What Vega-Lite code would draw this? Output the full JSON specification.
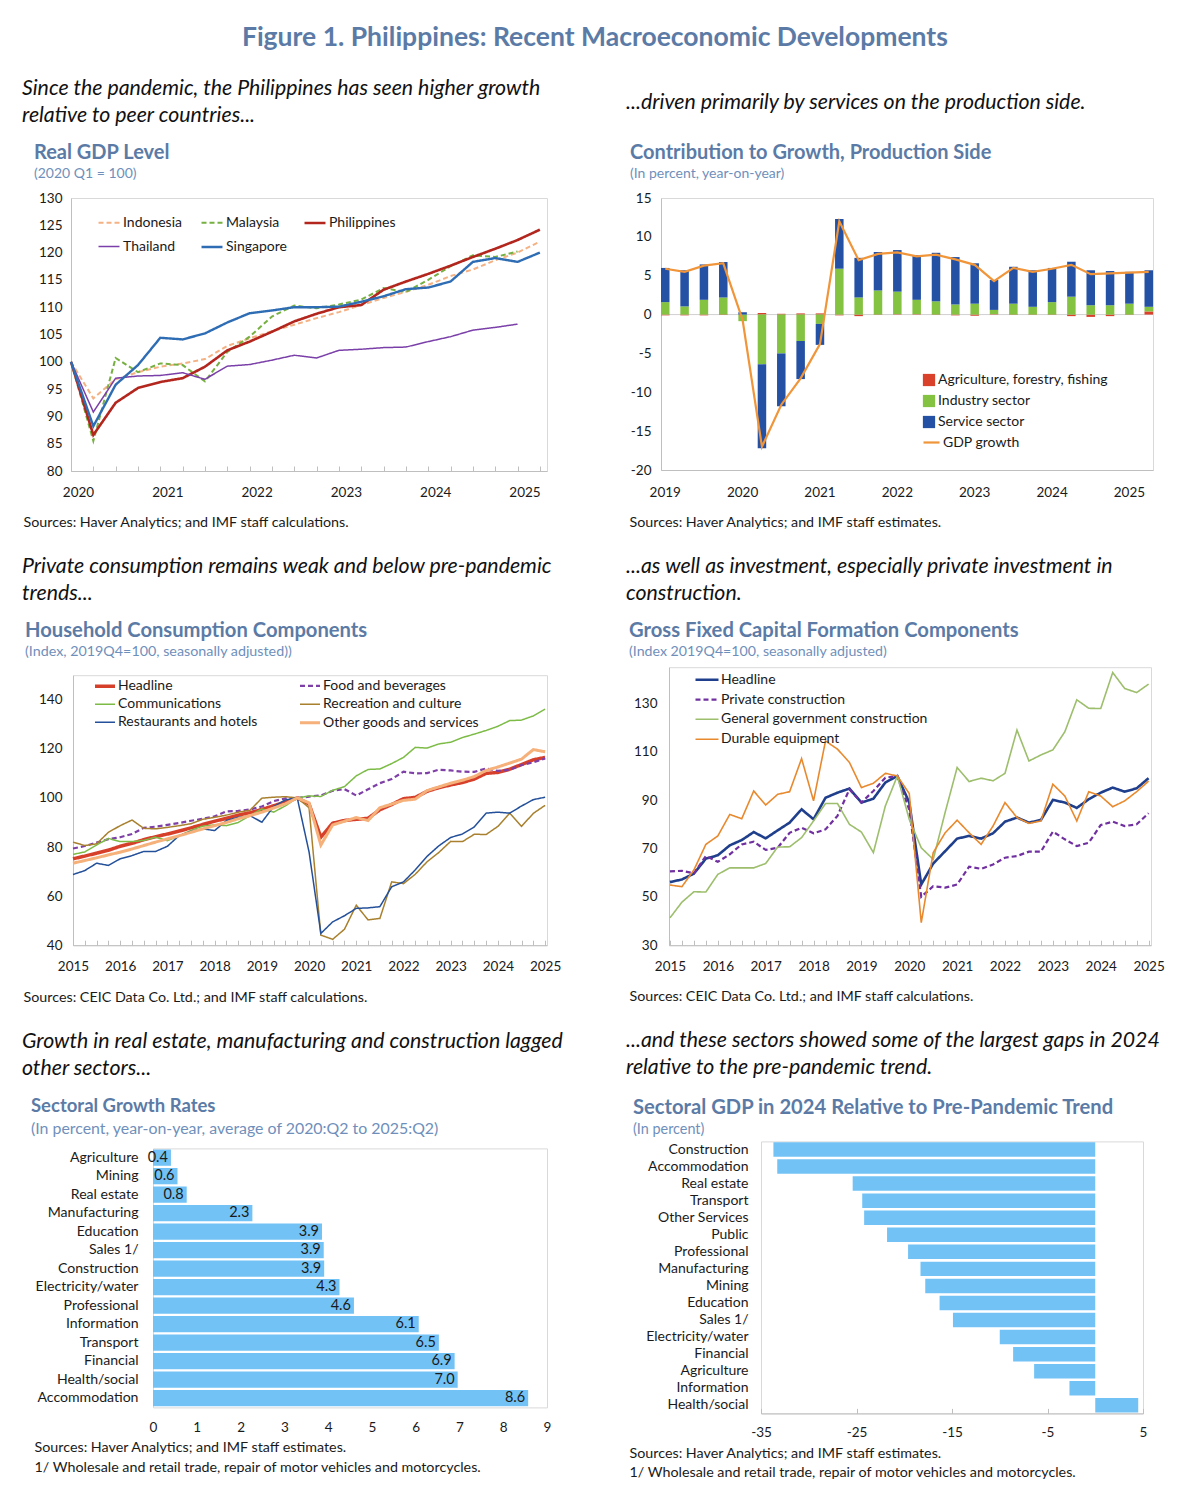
{
  "$schema": "https://vega.github.io/schema/vega-lite/v6.json",
  "background": "white",
  "padding": {"left": 21, "top": 25, "right": 10, "bottom": 10},
  "title": {"text": "Figure 1. Philippines: Recent Macroeconomic Developments", "fontSize": 26.5, "anchor": "middle", "frame": "bounds", "offset": 26, "dx": 2, "color": "#5B7BA6", "fontWeight": "bold"},
  "spacing": 62,
  "resolve": {"scale": {"color": "independent", "stroke": "independent", "strokeDash": "independent", "strokeWidth": "independent"}, "legend": {"color": "independent", "stroke": "independent", "strokeDash": "independent", "strokeWidth": "independent"}},
  "hconcat": [
    {
      "columns": 1, "align": "none", "spacing": 25.2,
      "resolve": {"scale": {"color": "independent", "stroke": "independent", "strokeDash": "independent", "strokeWidth": "independent"}, "legend": {"color": "independent", "stroke": "independent", "strokeDash": "independent", "strokeWidth": "independent"}},
      "concat": [
        {
          "title": {"text": ["Since the pandemic, the Philippines has seen higher growth", "relative to peer countries..."], "fontSize": 21.3, "fontStyle": "italic", "fontWeight": "normal", "color": "#111111", "lineHeight": 27, "offset": 16.3, "dx": 1},
          "resolve": {"scale": {"color": "independent", "stroke": "independent", "strokeDash": "independent", "strokeWidth": "independent"}, "legend": {"color": "independent", "stroke": "independent", "strokeDash": "independent", "strokeWidth": "independent"}},
          "vconcat": [
            {
              "spacing": 0,
              "resolve": {"scale": {"color": "independent", "stroke": "independent", "strokeDash": "independent", "strokeWidth": "independent"}, "legend": {"color": "independent", "stroke": "independent", "strokeDash": "independent", "strokeWidth": "independent"}},
              "hconcat": [
                {"width": 1, "height": 1, "data": {"values": []}, "mark": {"type": "point"}, "view": {"stroke": null}},
                {
                  "width": 476, "height": 273,
                  "title": {"text": "Real GDP Level", "subtitle": "(2020 Q1 = 100)", "fontSize": 20, "subtitleFontSize": 14, "subtitlePadding": 4, "offset": 10.3, "dx": 11},
                  "data": {"values": [
                    {"t": 2020, "Indonesia": 100, "Malaysia": 100, "Philippines": 100, "Thailand": 100, "Singapore": 100},
                    {"t": 2020.25, "Indonesia": 93.3, "Malaysia": 85.5, "Philippines": 86.6, "Thailand": 90.8, "Singapore": 88.2},
                    {"t": 2020.5, "Indonesia": 96.8, "Malaysia": 100.7, "Philippines": 92.5, "Thailand": 97.0, "Singapore": 95.8},
                    {"t": 2020.75, "Indonesia": 98.1, "Malaysia": 98.1, "Philippines": 95.2, "Thailand": 97.4, "Singapore": 99.4},
                    {"t": 2021, "Indonesia": 99.1, "Malaysia": 99.7, "Philippines": 96.3, "Thailand": 97.5, "Singapore": 104.4},
                    {"t": 2021.25, "Indonesia": 99.7, "Malaysia": 99.4, "Philippines": 97.0, "Thailand": 98.0, "Singapore": 104.1},
                    {"t": 2021.5, "Indonesia": 100.5, "Malaysia": 96.4, "Philippines": 99.1, "Thailand": 96.8, "Singapore": 105.2},
                    {"t": 2021.75, "Indonesia": 102.9, "Malaysia": 101.8, "Philippines": 102.1, "Thailand": 99.2, "Singapore": 107.2},
                    {"t": 2022, "Indonesia": 104.3, "Malaysia": 104.6, "Philippines": 103.7, "Thailand": 99.5, "Singapore": 108.9},
                    {"t": 2022.25, "Indonesia": 105.6, "Malaysia": 108.3, "Philippines": 105.5, "Thailand": 100.3, "Singapore": 109.4},
                    {"t": 2022.5, "Indonesia": 106.8, "Malaysia": 110.3, "Philippines": 107.4, "Thailand": 101.2, "Singapore": 110.0},
                    {"t": 2022.75, "Indonesia": 108.0, "Malaysia": 109.8, "Philippines": 108.8, "Thailand": 100.7, "Singapore": 110.0},
                    {"t": 2023, "Indonesia": 109.1, "Malaysia": 110.5, "Philippines": 110.0, "Thailand": 102.1, "Singapore": 110.1},
                    {"t": 2023.25, "Indonesia": 110.4, "Malaysia": 111.4, "Philippines": 110.4, "Thailand": 102.3, "Singapore": 111.0},
                    {"t": 2023.5, "Indonesia": 111.7, "Malaysia": 113.5, "Philippines": 113.2, "Thailand": 102.6, "Singapore": 112.0},
                    {"t": 2023.75, "Indonesia": 112.8, "Malaysia": 112.8, "Philippines": 114.7, "Thailand": 102.7, "Singapore": 113.3},
                    {"t": 2024, "Indonesia": 114.1, "Malaysia": 115.0, "Philippines": 116.1, "Thailand": 103.7, "Singapore": 113.6},
                    {"t": 2024.25, "Indonesia": 115.7, "Malaysia": 117.5, "Philippines": 117.6, "Thailand": 104.6, "Singapore": 114.7},
                    {"t": 2024.5, "Indonesia": 116.9, "Malaysia": 119.5, "Philippines": 119.2, "Thailand": 105.8, "Singapore": 118.3},
                    {"t": 2024.75, "Indonesia": 118.6, "Malaysia": 119.2, "Philippines": 120.7, "Thailand": 106.3, "Singapore": 119.0},
                    {"t": 2025, "Indonesia": 120.0, "Malaysia": 120.2, "Philippines": 122.3, "Thailand": 106.9, "Singapore": 118.3},
                    {"t": 2025.25, "Indonesia": 122.0, "Philippines": 124.2, "Singapore": 120.0}
                  ]},
                  "transform": [{"fold": ["Indonesia", "Malaysia", "Philippines", "Thailand", "Singapore"], "as": ["country", "idx"]}],
                  "mark": {"type": "line"},
                  "encoding": {
                    "x": {"field": "t", "type": "quantitative", "scale": {"domain": [2020, 2025.33], "nice": false, "zero": false},
                      "axis": {"values": [2020, 2020.25, 2020.5, 2020.75, 2021, 2021.25, 2021.5, 2021.75, 2022, 2022.25, 2022.5, 2022.75, 2023, 2023.25, 2023.5, 2023.75, 2024, 2024.25, 2024.5, 2024.75, 2025, 2025.25],
                        "labelExpr": "datum.value % 1 == 0 ? '' + datum.value : ''", "labelOverlap": false, "labelFlush": false, "tickSize": -5, "labelPadding": 19.5, "labelOffset": 7,
                        "title": "Sources: Haver Analytics; and IMF staff calculations.", "titleX": -48, "titleY": 51, "titleAlign": "left", "titleBaseline": "middle"}},
                    "y": {"field": "idx", "type": "quantitative", "scale": {"domain": [80, 130], "nice": false, "zero": false},
                      "axis": {"values": [80, 85, 90, 95, 100, 105, 110, 115, 120, 125, 130], "ticks": false, "labelPadding": 9, "labelOverlap": false, "title": null}},
                    "color": {"field": "country", "type": "nominal",
                      "scale": {"domain": ["Indonesia", "Malaysia", "Philippines", "Thailand", "Singapore"], "range": ["#F4B183", "#76B041", "#B3261E", "#7A3FA8", "#2E6DB4"]},
                      "legend": {"orient": "none", "direction": "horizontal", "legendX": 26, "legendY": 13, "columns": 3, "columnPadding": 6, "rowPadding": 5, "symbolType": "stroke", "symbolSize": 440, "labelOffset": 2, "labelFontSize": 14, "gridAlign": "all", "title": null}},
                    "strokeDash": {"field": "country", "type": "nominal",
                      "scale": {"domain": ["Indonesia", "Malaysia", "Philippines", "Thailand", "Singapore"], "range": [[5, 3], [5, 3], [1, 0], [1, 0], [1, 0]]}},
                    "strokeWidth": {"field": "country", "type": "nominal",
                      "scale": {"type": "ordinal", "domain": ["Indonesia", "Malaysia", "Philippines", "Thailand", "Singapore"], "range": [2, 2, 2.6, 1.5, 2.4]}}
                  }
                }
              ]
            }
          ]
        },
        {
          "title": {"text": ["Private consumption remains weak and below pre-pandemic", "trends..."], "fontSize": 21.3, "fontStyle": "italic", "fontWeight": "normal", "color": "#111111", "lineHeight": 27, "offset": 16.25, "dx": 1},
          "resolve": {"scale": {"color": "independent", "stroke": "independent", "strokeDash": "independent", "strokeWidth": "independent"}, "legend": {"color": "independent", "stroke": "independent", "strokeDash": "independent", "strokeWidth": "independent"}},
          "vconcat": [
            {
              "spacing": 0,
              "resolve": {"scale": {"color": "independent", "stroke": "independent", "strokeDash": "independent", "strokeWidth": "independent"}, "legend": {"color": "independent", "stroke": "independent", "strokeDash": "independent", "strokeWidth": "independent"}},
              "hconcat": [
                {"width": 1, "height": 1, "data": {"values": []}, "mark": {"type": "point"}, "view": {"stroke": null}},
                {
                  "width": 474, "height": 270,
                  "title": {"text": "Household Consumption Components", "subtitle": "(Index, 2019Q4=100, seasonally adjusted))", "fontSize": 20.2, "subtitleFontSize": 14.3, "subtitlePadding": 3.75, "offset": 14.85, "dx": 2},
                  "data": {"values": [
                    {"t": 2015, "Headline": 75.2, "Food and beverages": 79.4, "Communications": 77.0, "Recreation and culture": 82.0, "Restaurants and hotels": 68.8, "Other goods and services": 73.4},
                    {"t": 2015.25, "Headline": 76.3, "Food and beverages": 80.4, "Communications": 78.0, "Recreation and culture": 80.6, "Restaurants and hotels": 70.4, "Other goods and services": 74.5},
                    {"t": 2015.5, "Headline": 77.5, "Food and beverages": 81.8, "Communications": 80.8, "Recreation and culture": 81.3, "Restaurants and hotels": 73.4, "Other goods and services": 75.6},
                    {"t": 2015.75, "Headline": 78.7, "Food and beverages": 83.2, "Communications": 83.5, "Recreation and culture": 86.0, "Restaurants and hotels": 72.5, "Other goods and services": 76.8},
                    {"t": 2016, "Headline": 80.3, "Food and beverages": 84.0, "Communications": 82.2, "Recreation and culture": 88.7, "Restaurants and hotels": 75.2, "Other goods and services": 77.9},
                    {"t": 2016.25, "Headline": 81.5, "Food and beverages": 85.3, "Communications": 82.2, "Recreation and culture": 91.0, "Restaurants and hotels": 76.5, "Other goods and services": 79.2},
                    {"t": 2016.5, "Headline": 83.0, "Food and beverages": 87.8, "Communications": 82.7, "Recreation and culture": 87.6, "Restaurants and hotels": 78.2, "Other goods and services": 80.6},
                    {"t": 2016.75, "Headline": 84.2, "Food and beverages": 88.3, "Communications": 84.0, "Recreation and culture": 87.4, "Restaurants and hotels": 78.2, "Other goods and services": 82.0},
                    {"t": 2017, "Headline": 85.3, "Food and beverages": 89.0, "Communications": 82.6, "Recreation and culture": 88.0, "Restaurants and hotels": 80.3, "Other goods and services": 83.3},
                    {"t": 2017.25, "Headline": 86.5, "Food and beverages": 89.8, "Communications": 84.5, "Recreation and culture": 88.7, "Restaurants and hotels": 84.7, "Other goods and services": 84.6},
                    {"t": 2017.5, "Headline": 87.8, "Food and beverages": 90.7, "Communications": 86.8, "Recreation and culture": 89.5, "Restaurants and hotels": 86.4, "Other goods and services": 86.0},
                    {"t": 2017.75, "Headline": 89.2, "Food and beverages": 91.5, "Communications": 88.5, "Recreation and culture": 91.3, "Restaurants and hotels": 87.4, "Other goods and services": 87.4},
                    {"t": 2018, "Headline": 90.5, "Food and beverages": 92.5, "Communications": 89.0, "Recreation and culture": 92.1, "Restaurants and hotels": 86.7, "Other goods and services": 88.7},
                    {"t": 2018.25, "Headline": 91.7, "Food and beverages": 94.5, "Communications": 88.7, "Recreation and culture": 93.0, "Restaurants and hotels": 90.8, "Other goods and services": 90.0},
                    {"t": 2018.5, "Headline": 93.0, "Food and beverages": 94.7, "Communications": 90.0, "Recreation and culture": 94.2, "Restaurants and hotels": 92.1, "Other goods and services": 91.5},
                    {"t": 2018.75, "Headline": 94.0, "Food and beverages": 95.3, "Communications": 92.8, "Recreation and culture": 95.0, "Restaurants and hotels": 92.8, "Other goods and services": 92.8},
                    {"t": 2019, "Headline": 95.3, "Food and beverages": 96.5, "Communications": 95.5, "Recreation and culture": 99.9, "Restaurants and hotels": 90.1, "Other goods and services": 94.2},
                    {"t": 2019.25, "Headline": 96.8, "Food and beverages": 98.7, "Communications": 94.2, "Recreation and culture": 100.3, "Restaurants and hotels": 96.5, "Other goods and services": 95.9},
                    {"t": 2019.5, "Headline": 98.3, "Food and beverages": 99.8, "Communications": 96.8, "Recreation and culture": 100.5, "Restaurants and hotels": 99.2, "Other goods and services": 97.6},
                    {"t": 2019.75, "Headline": 100, "Food and beverages": 100, "Communications": 100, "Recreation and culture": 100, "Restaurants and hotels": 100, "Other goods and services": 100},
                    {"t": 2020, "Headline": 97.5, "Food and beverages": 100.5, "Communications": 100.8, "Recreation and culture": 96.0, "Restaurants and hotels": 78.0, "Other goods and services": 98.0},
                    {"t": 2020.25, "Headline": 84.0, "Food and beverages": 101.0, "Communications": 100.6, "Recreation and culture": 44.1, "Restaurants and hotels": 44.8, "Other goods and services": 80.8},
                    {"t": 2020.5, "Headline": 89.7, "Food and beverages": 102.9, "Communications": 103.1, "Recreation and culture": 42.4, "Restaurants and hotels": 49.5, "Other goods and services": 89.0},
                    {"t": 2020.75, "Headline": 90.8, "Food and beverages": 103.6, "Communications": 104.6, "Recreation and culture": 46.5, "Restaurants and hotels": 52.0, "Other goods and services": 90.5},
                    {"t": 2021, "Headline": 91.3, "Food and beverages": 101.0, "Communications": 109.0, "Recreation and culture": 56.3, "Restaurants and hotels": 55.0, "Other goods and services": 92.0},
                    {"t": 2021.25, "Headline": 91.7, "Food and beverages": 103.5, "Communications": 111.6, "Recreation and culture": 50.3, "Restaurants and hotels": 55.2, "Other goods and services": 90.8},
                    {"t": 2021.5, "Headline": 95.2, "Food and beverages": 106.0, "Communications": 111.8, "Recreation and culture": 50.9, "Restaurants and hotels": 55.7, "Other goods and services": 96.0},
                    {"t": 2021.75, "Headline": 97.3, "Food and beverages": 107.7, "Communications": 114.0, "Recreation and culture": 65.8, "Restaurants and hotels": 63.8, "Other goods and services": 97.5},
                    {"t": 2022, "Headline": 99.7, "Food and beverages": 110.7, "Communications": 116.5, "Recreation and culture": 65.1, "Restaurants and hotels": 65.8, "Other goods and services": 99.0},
                    {"t": 2022.25, "Headline": 100.2, "Food and beverages": 110.0, "Communications": 120.6, "Recreation and culture": 68.9, "Restaurants and hotels": 70.7, "Other goods and services": 99.5},
                    {"t": 2022.5, "Headline": 102.7, "Food and beverages": 110.1, "Communications": 120.3, "Recreation and culture": 74.0, "Restaurants and hotels": 76.2, "Other goods and services": 103.0},
                    {"t": 2022.75, "Headline": 104.2, "Food and beverages": 111.5, "Communications": 122.0, "Recreation and culture": 77.8, "Restaurants and hotels": 80.5, "Other goods and services": 104.5},
                    {"t": 2023, "Headline": 105.3, "Food and beverages": 111.2, "Communications": 122.7, "Recreation and culture": 82.3, "Restaurants and hotels": 83.9, "Other goods and services": 106.0},
                    {"t": 2023.25, "Headline": 106.3, "Food and beverages": 110.7, "Communications": 124.6, "Recreation and culture": 82.2, "Restaurants and hotels": 85.3, "Other goods and services": 107.2},
                    {"t": 2023.5, "Headline": 107.7, "Food and beverages": 110.6, "Communications": 126.0, "Recreation and culture": 85.2, "Restaurants and hotels": 88.2, "Other goods and services": 108.7},
                    {"t": 2023.75, "Headline": 110.0, "Food and beverages": 112.0, "Communications": 127.5, "Recreation and culture": 85.1, "Restaurants and hotels": 93.8, "Other goods and services": 111.2},
                    {"t": 2024, "Headline": 110.4, "Food and beverages": 111.0, "Communications": 129.2, "Recreation and culture": 88.4, "Restaurants and hotels": 94.2, "Other goods and services": 112.6},
                    {"t": 2024.25, "Headline": 111.7, "Food and beverages": 111.5, "Communications": 131.5, "Recreation and culture": 93.8, "Restaurants and hotels": 93.8, "Other goods and services": 114.2},
                    {"t": 2024.5, "Headline": 113.6, "Food and beverages": 113.4, "Communications": 131.7, "Recreation and culture": 88.4, "Restaurants and hotels": 96.7, "Other goods and services": 115.8},
                    {"t": 2024.75, "Headline": 115.5, "Food and beverages": 114.5, "Communications": 133.4, "Recreation and culture": 93.7, "Restaurants and hotels": 99.3, "Other goods and services": 119.7},
                    {"t": 2025, "Headline": 116.5, "Food and beverages": 116.1, "Communications": 136.2, "Recreation and culture": 97.0, "Restaurants and hotels": 100.3, "Other goods and services": 118.8}
                  ]},
                  "transform": [{"fold": ["Headline", "Food and beverages", "Communications", "Recreation and culture", "Restaurants and hotels", "Other goods and services"], "as": ["series", "idx"]}],
                  "mark": {"type": "line"},
                  "encoding": {
                    "x": {"field": "t", "type": "quantitative", "scale": {"domain": [2015, 2025.04], "nice": false, "zero": false},
                      "axis": {"values": [2015, 2015.25, 2015.5, 2015.75, 2016, 2016.25, 2016.5, 2016.75, 2017, 2017.25, 2017.5, 2017.75, 2018, 2018.25, 2018.5, 2018.75, 2019, 2019.25, 2019.5, 2019.75, 2020, 2020.25, 2020.5, 2020.75, 2021, 2021.25, 2021.5, 2021.75, 2022, 2022.25, 2022.5, 2022.75, 2023, 2023.25, 2023.5, 2023.75, 2024, 2024.25, 2024.5, 2024.75, 2025],
                        "labelExpr": "datum.value % 1 == 0 ? '' + datum.value : ''", "labelOverlap": false, "labelFlush": false, "tickSize": -5, "labelPadding": 19.5,
                        "title": "Sources: CEIC Data Co. Ltd.; and IMF staff calculations.", "titleX": -50, "titleY": 52, "titleAlign": "left", "titleBaseline": "middle"}},
                    "y": {"field": "idx", "type": "quantitative", "scale": {"domain": [40, 150], "nice": false, "zero": false},
                      "axis": {"values": [40, 60, 80, 100, 120, 140], "ticks": false, "labelPadding": 11, "labelOverlap": false, "title": null}},
                    "color": {"field": "series", "type": "nominal",
                      "scale": {"domain": ["Headline", "Food and beverages", "Communications", "Recreation and culture", "Restaurants and hotels", "Other goods and services"], "range": ["#D6402B", "#7E3FA6", "#7CBB45", "#A8802E", "#24509A", "#F6B07A"]},
                      "legend": {"orient": "none", "direction": "horizontal", "legendX": 20, "legendY": -1, "columns": 2, "columnPadding": 36, "rowPadding": -2, "symbolType": "stroke", "symbolSize": 400, "labelOffset": 1, "labelFontSize": 14, "labelLimit": 300, "gridAlign": "each", "title": null}},
                    "strokeDash": {"field": "series", "type": "nominal",
                      "scale": {"domain": ["Headline", "Food and beverages", "Communications", "Recreation and culture", "Restaurants and hotels", "Other goods and services"], "range": [[1, 0], [5, 3], [1, 0], [1, 0], [1, 0], [1, 0]]}},
                    "strokeWidth": {"field": "series", "type": "nominal",
                      "scale": {"type": "ordinal", "domain": ["Headline", "Food and beverages", "Communications", "Recreation and culture", "Restaurants and hotels", "Other goods and services"], "range": [3.5, 2.2, 1.5, 1.5, 1.5, 3]}}
                  }
                }
              ]
            }
          ]
        },
        {
          "title": {"text": ["Growth in real estate, manufacturing and construction lagged", "other sectors..."], "fontSize": 21.3, "fontStyle": "italic", "fontWeight": "normal", "color": "#111111", "lineHeight": 27, "offset": 17.1, "dx": 1},
          "resolve": {"scale": {"color": "independent", "stroke": "independent", "strokeDash": "independent", "strokeWidth": "independent"}, "legend": {"color": "independent", "stroke": "independent", "strokeDash": "independent", "strokeWidth": "independent"}},
          "vconcat": [
            {
              "spacing": 0,
              "hconcat": [
                {"width": 9, "height": 1, "data": {"values": []}, "mark": {"type": "point"}, "view": {"stroke": null}},
                {
                  "width": 394, "height": 259,
                  "title": {"text": "Sectoral Growth Rates", "subtitle": "(In percent, year-on-year, average of 2020:Q2 to 2025:Q2)", "fontSize": 18.5, "subtitleFontSize": 15.9, "subtitlePadding": 4.8, "offset": 12, "dx": -3},
                  "data": {"values": [
                    {"sector": "Agriculture", "v": 0.41},
                    {"sector": "Mining", "v": 0.56},
                    {"sector": "Real estate", "v": 0.77},
                    {"sector": "Manufacturing", "v": 2.27},
                    {"sector": "Education", "v": 3.86},
                    {"sector": "Sales 1/", "v": 3.9},
                    {"sector": "Construction", "v": 3.91},
                    {"sector": "Electricity/water", "v": 4.26},
                    {"sector": "Professional", "v": 4.59},
                    {"sector": "Information", "v": 6.07},
                    {"sector": "Transport", "v": 6.53},
                    {"sector": "Financial", "v": 6.89},
                    {"sector": "Health/social", "v": 6.96},
                    {"sector": "Accommodation", "v": 8.57}
                  ]},
                  "encoding": {
                    "y": {"field": "sector", "type": "nominal", "sort": null, "scale": {"paddingInner": 0.12, "paddingOuter": 0.06},
                      "axis": {"ticks": false, "domain": false, "labelPadding": 15, "labelFontSize": 14.1, "title": null}},
                    "x": {"field": "v", "type": "quantitative", "scale": {"domain": [0, 9], "nice": false},
                      "axis": {"values": [0, 1, 2, 3, 4, 5, 6, 7, 8, 9], "ticks": false, "domain": false, "labelPadding": 13, "labelFontSize": 13.5, "labelFlush": false,
                        "title": ["Sources: Haver Analytics; and IMF staff estimates.", "1/ Wholesale and retail trade, repair of motor vehicles and motorcycles."], "titleX": -119, "titleY": 32.85, "titleAlign": "left", "titleBaseline": "top", "titleLineHeight": 20}}
                  },
                  "layer": [
                    {"mark": {"type": "bar", "color": "#73C2F5"}},
                    {"mark": {"type": "text", "align": "right", "baseline": "middle", "dx": -3, "fontSize": 14.5, "color": "#1a1a1a"}, "encoding": {"text": {"field": "v", "type": "quantitative", "format": ".1f"}}}
                  ]
                }
              ]
            }
          ]
        }
      ]
    },
    {
      "columns": 1, "align": "none", "spacing": 25.2,
      "resolve": {"scale": {"color": "independent", "stroke": "independent", "strokeDash": "independent", "strokeWidth": "independent"}, "legend": {"color": "independent", "stroke": "independent", "strokeDash": "independent", "strokeWidth": "independent"}},
      "concat": [
        {
          "title": {"text": ["...driven primarily by services on the production side.", ""], "fontSize": 21.3, "fontStyle": "italic", "fontWeight": "normal", "color": "#111111", "lineHeight": 27, "offset": 16.3, "dx": 1, "dy": 14},
          "resolve": {"scale": {"color": "independent", "stroke": "independent", "strokeDash": "independent", "strokeWidth": "independent"}, "legend": {"color": "independent", "stroke": "independent", "strokeDash": "independent", "strokeWidth": "independent"}},
          "vconcat": [
            {
              "spacing": 0,
              "resolve": {"scale": {"color": "independent", "stroke": "independent", "strokeDash": "independent", "strokeWidth": "independent"}, "legend": {"color": "independent", "stroke": "independent", "strokeDash": "independent", "strokeWidth": "independent"}},
              "hconcat": [
                {"width": 3, "height": 1, "data": {"values": []}, "mark": {"type": "point"}, "view": {"stroke": null}},
                {
                  "width": 492, "height": 272,
                  "title": {"text": "Contribution to Growth, Production Side", "subtitle": "(In percent, year-on-year)", "fontSize": 20, "subtitleFontSize": 14, "subtitlePadding": 4, "offset": 10.3, "dx": 1},
                  "data": {"values": [
                    {"q": "2019Q1", "Agriculture, forestry, fishing": -0.1, "Industry sector": 1.6, "Service sector": 4.4, "gdp": 5.9},
                    {"q": "2019Q2", "Agriculture, forestry, fishing": -0.1, "Industry sector": 1.05, "Service sector": 4.65, "gdp": 5.5},
                    {"q": "2019Q3", "Agriculture, forestry, fishing": -0.1, "Industry sector": 1.9, "Service sector": 4.55, "gdp": 6.3},
                    {"q": "2019Q4", "Agriculture, forestry, fishing": -0.05, "Industry sector": 2.2, "Service sector": 4.55, "gdp": 6.6},
                    {"q": "2020Q1", "Agriculture, forestry, fishing": 0.0, "Industry sector": -0.85, "Service sector": 0.3, "gdp": -0.7},
                    {"q": "2020Q2", "Agriculture, forestry, fishing": 0.2, "Industry sector": -6.4, "Service sector": -10.8, "gdp": -17.0},
                    {"q": "2020Q3", "Agriculture, forestry, fishing": 0.1, "Industry sector": -5.0, "Service sector": -6.8, "gdp": -11.6},
                    {"q": "2020Q4", "Agriculture, forestry, fishing": 0.15, "Industry sector": -3.4, "Service sector": -4.9, "gdp": -8.2},
                    {"q": "2021Q1", "Agriculture, forestry, fishing": 0.15, "Industry sector": -1.2, "Service sector": -2.7, "gdp": -3.8},
                    {"q": "2021Q2", "Agriculture, forestry, fishing": -0.1, "Industry sector": 5.9, "Service sector": 6.4, "gdp": 12.0},
                    {"q": "2021Q3", "Agriculture, forestry, fishing": -0.2, "Industry sector": 2.2, "Service sector": 5.1, "gdp": 7.0},
                    {"q": "2021Q4", "Agriculture, forestry, fishing": -0.05, "Industry sector": 3.1, "Service sector": 4.95, "gdp": 7.8},
                    {"q": "2022Q1", "Agriculture, forestry, fishing": 0.05, "Industry sector": 2.9, "Service sector": 5.35, "gdp": 8.0},
                    {"q": "2022Q2", "Agriculture, forestry, fishing": 0.05, "Industry sector": 1.85, "Service sector": 5.75, "gdp": 7.5},
                    {"q": "2022Q3", "Agriculture, forestry, fishing": -0.05, "Industry sector": 1.7, "Service sector": 6.25, "gdp": 7.7},
                    {"q": "2022Q4", "Agriculture, forestry, fishing": -0.1, "Industry sector": 1.3, "Service sector": 6.1, "gdp": 7.1},
                    {"q": "2023Q1", "Agriculture, forestry, fishing": -0.15, "Industry sector": 1.4, "Service sector": 5.2, "gdp": 6.4},
                    {"q": "2023Q2", "Agriculture, forestry, fishing": 0.05, "Industry sector": 0.55, "Service sector": 3.85, "gdp": 4.3},
                    {"q": "2023Q3", "Agriculture, forestry, fishing": -0.05, "Industry sector": 1.4, "Service sector": 4.75, "gdp": 6.0},
                    {"q": "2023Q4", "Agriculture, forestry, fishing": -0.05, "Industry sector": 1.0, "Service sector": 4.7, "gdp": 5.5},
                    {"q": "2024Q1", "Agriculture, forestry, fishing": -0.05, "Industry sector": 1.6, "Service sector": 4.4, "gdp": 5.9},
                    {"q": "2024Q2", "Agriculture, forestry, fishing": -0.2, "Industry sector": 2.3, "Service sector": 4.5, "gdp": 6.4},
                    {"q": "2024Q3", "Agriculture, forestry, fishing": -0.3, "Industry sector": 1.2, "Service sector": 4.5, "gdp": 5.2},
                    {"q": "2024Q4", "Agriculture, forestry, fishing": -0.2, "Industry sector": 1.2, "Service sector": 4.4, "gdp": 5.3},
                    {"q": "2025Q1", "Agriculture, forestry, fishing": -0.05, "Industry sector": 1.4, "Service sector": 4.1, "gdp": 5.4},
                    {"q": "2025Q2", "Agriculture, forestry, fishing": 0.4, "Industry sector": 0.6, "Service sector": 4.7, "gdp": 5.5}
                  ]},
                  "layer": [
                    {
                      "data": {"values": [{"z": 0}]},
                      "mark": {"type": "rule", "color": "#d0d0d0"},
                      "encoding": {"y": {"field": "z", "type": "quantitative", "scale": {"domain": [-20, 15], "nice": false},
                        "axis": {"values": [-20, -15, -10, -5, 0, 5, 10, 15], "labelExpr": "'' + datum.value", "ticks": false, "labelPadding": 10, "labelOverlap": false, "title": null}}}
                    },
                    {
                      "transform": [{"fold": ["Agriculture, forestry, fishing", "Industry sector", "Service sector"], "as": ["sector", "val"]}],
                      "mark": {"type": "bar"},
                      "encoding": {
                        "x": {"field": "q", "type": "ordinal", "sort": null, "scale": {"paddingInner": 0.56, "paddingOuter": 0},
                          "axis": {"labelExpr": "indexof(datum.value, 'Q1') > 0 ? slice(datum.value, 0, 4) : ''", "labelAngle": 0, "ticks": false, "labelPadding": 15, "labelOverlap": false,
                            "title": "Sources: Haver Analytics; and IMF staff estimates.", "titleX": -32, "titleY": 52, "titleAlign": "left", "titleBaseline": "middle"}},
                        "y": {"field": "val", "type": "quantitative", "stack": "zero", "scale": {"domain": [-20, 15], "nice": false},
                          "axis": {"values": [-20, -15, -10, -5, 0, 5, 10, 15], "labelExpr": "'' + datum.value", "ticks": false, "labelPadding": 10, "labelOverlap": false, "title": null}},
                        "color": {"field": "sector", "type": "nominal",
                          "scale": {"domain": ["Agriculture, forestry, fishing", "Industry sector", "Service sector"], "range": ["#D9412B", "#84C341", "#2451A4"]},
                          "legend": {"orient": "none", "legendX": 261, "legendY": 175, "symbolType": "square", "symbolSize": 150, "rowPadding": 7, "labelOffset": 2, "labelFontSize": 14, "labelLimit": 300, "title": null}},
                        "order": {"field": "sector", "sort": "ascending"}
                      }
                    },
                    {
                      "mark": {"type": "line", "strokeWidth": 2.2},
                      "encoding": {
                        "x": {"field": "q", "type": "ordinal", "sort": null},
                        "y": {"field": "gdp", "type": "quantitative",
                          "axis": {"values": [-20, -15, -10, -5, 0, 5, 10, 15], "labelExpr": "'' + datum.value", "ticks": false, "labelPadding": 10, "labelOverlap": false, "title": null}},
                        "stroke": {"datum": "GDP growth", "type": "nominal", "scale": {"range": ["#F0953A"]},
                          "legend": {"orient": "none", "legendX": 261, "legendY": 235, "symbolType": "stroke", "symbolSize": 256, "symbolStrokeWidth": 2.2, "labelOffset": 2, "labelFontSize": 14, "title": null}}
                      }
                    }
                  ]
                }
              ]
            }
          ]
        },
        {
          "title": {"text": ["...as well as investment, especially private investment in", "construction."], "fontSize": 21.3, "fontStyle": "italic", "fontWeight": "normal", "color": "#111111", "lineHeight": 27, "offset": 16.25, "dx": 1},
          "resolve": {"scale": {"color": "independent", "stroke": "independent", "strokeDash": "independent", "strokeWidth": "independent"}, "legend": {"color": "independent", "stroke": "independent", "strokeDash": "independent", "strokeWidth": "independent"}},
          "vconcat": [
            {
              "spacing": 0,
              "resolve": {"scale": {"color": "independent", "stroke": "independent", "strokeDash": "independent", "strokeWidth": "independent"}, "legend": {"color": "independent", "stroke": "independent", "strokeDash": "independent", "strokeWidth": "independent"}},
              "hconcat": [
                {"width": 3, "height": 1, "data": {"values": []}, "mark": {"type": "point"}, "view": {"stroke": null}},
                {
                  "width": 482, "height": 278,
                  "title": {"text": "Gross Fixed Capital Formation Components", "subtitle": "(Index 2019Q4=100, seasonally adjusted)", "fontSize": 20.2, "subtitleFontSize": 14.2, "subtitlePadding": 3.75, "offset": 7.85, "dx": 0},
                  "data": {"values": [
                    {"t": 2015, "Headline": 56.1, "Private construction": 60.5, "General government construction": 41.3, "Durable equipment": 54.9},
                    {"t": 2015.25, "Headline": 57.2, "Private construction": 60.8, "General government construction": 47.8, "Durable equipment": 54.2},
                    {"t": 2015.5, "Headline": 59.6, "Private construction": 59.7, "General government construction": 52.1, "Durable equipment": 61.1},
                    {"t": 2015.75, "Headline": 65.8, "Private construction": 66.9, "General government construction": 52.0, "Durable equipment": 71.7},
                    {"t": 2016, "Headline": 67.2, "Private construction": 64.5, "General government construction": 59.3, "Durable equipment": 75.2},
                    {"t": 2016.25, "Headline": 71.3, "Private construction": 67.6, "General government construction": 62.0, "Durable equipment": 84.1},
                    {"t": 2016.5, "Headline": 73.5, "Private construction": 71.7, "General government construction": 62.0, "Durable equipment": 82.3},
                    {"t": 2016.75, "Headline": 76.8, "Private construction": 72.8, "General government construction": 62.0, "Durable equipment": 93.8},
                    {"t": 2017, "Headline": 74.2, "Private construction": 69.4, "General government construction": 63.8, "Durable equipment": 88.0},
                    {"t": 2017.25, "Headline": 77.5, "Private construction": 70.3, "General government construction": 70.6, "Durable equipment": 92.4},
                    {"t": 2017.5, "Headline": 80.7, "Private construction": 76.5, "General government construction": 70.7, "Durable equipment": 93.5},
                    {"t": 2017.75, "Headline": 86.2, "Private construction": 78.6, "General government construction": 74.5, "Durable equipment": 107.2},
                    {"t": 2018, "Headline": 82.1, "Private construction": 76.3, "General government construction": 81.4, "Durable equipment": 89.7},
                    {"t": 2018.25, "Headline": 91.0, "Private construction": 77.9, "General government construction": 88.6, "Durable equipment": 114.5},
                    {"t": 2018.5, "Headline": 93.1, "Private construction": 83.5, "General government construction": 88.6, "Durable equipment": 111.1},
                    {"t": 2018.75, "Headline": 94.8, "Private construction": 94.5, "General government construction": 80.0, "Durable equipment": 105.6},
                    {"t": 2019, "Headline": 89.0, "Private construction": 89.0, "General government construction": 76.8, "Durable equipment": 95.2},
                    {"t": 2019.25, "Headline": 90.6, "Private construction": 93.8, "General government construction": 68.3, "Durable equipment": 97.0},
                    {"t": 2019.5, "Headline": 97.3, "Private construction": 99.3, "General government construction": 87.6, "Durable equipment": 101.1},
                    {"t": 2019.75, "Headline": 100, "Private construction": 100, "General government construction": 100, "Durable equipment": 100},
                    {"t": 2020, "Headline": 89.0, "Private construction": 86.0, "General government construction": 82.0, "Durable equipment": 92.7},
                    {"t": 2020.25, "Headline": 55.1, "Private construction": 50.0, "General government construction": 70.3, "Durable equipment": 39.3},
                    {"t": 2020.5, "Headline": 63.8, "Private construction": 54.4, "General government construction": 65.5, "Durable equipment": 68.3},
                    {"t": 2020.75, "Headline": 68.9, "Private construction": 53.8, "General government construction": 85.0, "Durable equipment": 76.5},
                    {"t": 2021, "Headline": 74.1, "Private construction": 55.1, "General government construction": 103.5, "Durable equipment": 81.7},
                    {"t": 2021.25, "Headline": 75.2, "Private construction": 62.5, "General government construction": 97.7, "Durable equipment": 76.5},
                    {"t": 2021.5, "Headline": 74.1, "Private construction": 61.6, "General government construction": 99.1, "Durable equipment": 71.7},
                    {"t": 2021.75, "Headline": 76.3, "Private construction": 63.4, "General government construction": 98.0, "Durable equipment": 79.3},
                    {"t": 2022, "Headline": 81.1, "Private construction": 66.2, "General government construction": 101.1, "Durable equipment": 89.0},
                    {"t": 2022.25, "Headline": 82.8, "Private construction": 66.9, "General government construction": 119.0, "Durable equipment": 82.8},
                    {"t": 2022.5, "Headline": 80.7, "Private construction": 68.7, "General government construction": 106.2, "Durable equipment": 80.4},
                    {"t": 2022.75, "Headline": 81.8, "Private construction": 68.7, "General government construction": 108.7, "Durable equipment": 81.4},
                    {"t": 2023, "Headline": 90.1, "Private construction": 77.0, "General government construction": 110.8, "Durable equipment": 96.6},
                    {"t": 2023.25, "Headline": 89.0, "Private construction": 73.8, "General government construction": 118.3, "Durable equipment": 91.7},
                    {"t": 2023.5, "Headline": 86.8, "Private construction": 71.0, "General government construction": 131.5, "Durable equipment": 81.4},
                    {"t": 2023.75, "Headline": 90.4, "Private construction": 72.4, "General government construction": 128.0, "Durable equipment": 93.5},
                    {"t": 2024, "Headline": 93.1, "Private construction": 79.7, "General government construction": 127.9, "Durable equipment": 91.7},
                    {"t": 2024.25, "Headline": 95.2, "Private construction": 81.1, "General government construction": 142.8, "Durable equipment": 87.3},
                    {"t": 2024.5, "Headline": 93.5, "Private construction": 79.3, "General government construction": 136.2, "Durable equipment": 89.7},
                    {"t": 2024.75, "Headline": 94.9, "Private construction": 80.0, "General government construction": 134.5, "Durable equipment": 93.5},
                    {"t": 2025, "Headline": 99.1, "Private construction": 84.6, "General government construction": 138.0, "Durable equipment": 97.9}
                  ]},
                  "transform": [{"fold": ["Headline", "Private construction", "General government construction", "Durable equipment"], "as": ["series", "idx"]}],
                  "mark": {"type": "line"},
                  "encoding": {
                    "x": {"field": "t", "type": "quantitative", "scale": {"domain": [2014.98, 2025.05], "nice": false, "zero": false},
                      "axis": {"values": [2015, 2015.25, 2015.5, 2015.75, 2016, 2016.25, 2016.5, 2016.75, 2017, 2017.25, 2017.5, 2017.75, 2018, 2018.25, 2018.5, 2018.75, 2019, 2019.25, 2019.5, 2019.75, 2020, 2020.25, 2020.5, 2020.75, 2021, 2021.25, 2021.5, 2021.75, 2022, 2022.25, 2022.5, 2022.75, 2023, 2023.25, 2023.5, 2023.75, 2024, 2024.25, 2024.5, 2024.75, 2025],
                        "labelExpr": "datum.value % 1 == 0 ? '' + datum.value : ''", "labelOverlap": false, "labelFlush": false, "tickSize": -5, "labelPadding": 19.5,
                        "title": "Sources: CEIC Data Co. Ltd.; and IMF staff calculations.", "titleX": -40, "titleY": 51, "titleAlign": "left", "titleBaseline": "middle"}},
                    "y": {"field": "idx", "type": "quantitative", "scale": {"domain": [30, 145], "nice": false, "zero": false},
                      "axis": {"values": [30, 50, 70, 90, 110, 130], "ticks": false, "labelPadding": 12, "labelOverlap": false, "title": null}},
                    "color": {"field": "series", "type": "nominal",
                      "scale": {"domain": ["Headline", "Private construction", "General government construction", "Durable equipment"], "range": ["#1F3F8C", "#7030A0", "#9DBE6C", "#E8892E"]},
                      "legend": {"orient": "none", "legendX": 25, "legendY": -0.5, "rowPadding": -5.3, "symbolType": "stroke", "symbolSize": 529, "labelOffset": 1, "labelFontSize": 14, "labelLimit": 300, "title": null}},
                    "strokeDash": {"field": "series", "type": "nominal",
                      "scale": {"domain": ["Headline", "Private construction", "General government construction", "Durable equipment"], "range": [[1, 0], [5, 3], [1, 0], [1, 0]]}},
                    "strokeWidth": {"field": "series", "type": "nominal",
                      "scale": {"type": "ordinal", "domain": ["Headline", "Private construction", "General government construction", "Durable equipment"], "range": [2.6, 2.2, 1.6, 1.6]}}
                  }
                }
              ]
            }
          ]
        },
        {
          "title": {"text": ["...and these sectors showed some of the largest gaps in 2024", "relative to the pre-pandemic trend."], "fontSize": 21.3, "fontStyle": "italic", "fontWeight": "normal", "color": "#111111", "lineHeight": 27, "offset": 19.25, "dx": 1},
          "resolve": {"scale": {"color": "independent", "stroke": "independent", "strokeDash": "independent", "strokeWidth": "independent"}, "legend": {"color": "independent", "stroke": "independent", "strokeDash": "independent", "strokeWidth": "independent"}},
          "vconcat": [
            {
              "spacing": 0,
              "hconcat": [
                {"width": 3, "height": 1, "data": {"values": []}, "mark": {"type": "point"}, "view": {"stroke": null}},
                {
                  "width": 382, "height": 272,
                  "title": {"text": "Sectoral GDP in 2024 Relative to Pre-Pandemic Trend", "subtitle": "(In percent)", "fontSize": 20.2, "subtitleFontSize": 14.4, "subtitlePadding": 4.7, "offset": 4.8, "dx": 4},
                  "data": {"values": [
                    {"sector": "Construction", "v": -33.7},
                    {"sector": "Accommodation", "v": -33.3},
                    {"sector": "Real estate", "v": -25.4},
                    {"sector": "Transport", "v": -24.4},
                    {"sector": "Other Services", "v": -24.2},
                    {"sector": "Public", "v": -21.8},
                    {"sector": "Professional", "v": -19.6},
                    {"sector": "Manufacturing", "v": -18.3},
                    {"sector": "Mining", "v": -17.8},
                    {"sector": "Education", "v": -16.3},
                    {"sector": "Sales 1/", "v": -14.9},
                    {"sector": "Electricity/water", "v": -10.0},
                    {"sector": "Financial", "v": -8.6},
                    {"sector": "Agriculture", "v": -6.4},
                    {"sector": "Information", "v": -2.7},
                    {"sector": "Health/social", "v": 4.5}
                  ]},
                  "mark": {"type": "bar", "color": "#73C2F5"},
                  "encoding": {
                    "y": {"field": "sector", "type": "nominal", "sort": null, "scale": {"paddingInner": 0.15, "paddingOuter": 0.05},
                      "axis": {"ticks": false, "domain": false, "labelPadding": 13, "labelFontSize": 14, "title": null}},
                    "x": {"field": "v", "type": "quantitative", "scale": {"domain": [-35, 5], "nice": false},
                      "axis": {"values": [-35, -25, -15, -5, 5], "labelExpr": "'' + datum.value", "tickSize": -5, "labelPadding": 17.5, "labelFontSize": 13.5, "labelFlush": false,
                        "title": ["Sources: Haver Analytics; and IMF staff estimates.", "1/ Wholesale and retail trade, repair of motor vehicles and motorcycles."], "titleX": -132, "titleY": 32.85, "titleAlign": "left", "titleBaseline": "top", "titleLineHeight": 19}}
                  }
                }
              ]
            }
          ]
        }
      ]
    }
  ],
  "config": {
    "font": "Lato",
    "view": {"stroke": "#d9d9d9", "strokeWidth": 1},
    "axis": {"labelFont": "Lato", "labelFontSize": 13.5, "labelColor": "#1a1a1a", "domainColor": "#bfbfbf", "tickColor": "#bfbfbf", "grid": false, "titleFont": "Lato", "titleFontSize": 14.3, "titleFontWeight": "normal", "titleColor": "#1a1a1a"},
    "legend": {"labelFont": "Lato", "labelFontSize": 14, "labelColor": "#1a1a1a"},
    "title": {"font": "Lato", "color": "#5B7BA6", "anchor": "start", "frame": "bounds", "fontWeight": "bold", "subtitleFont": "Lato", "subtitleColor": "#6f8fbb"}
  }
}
